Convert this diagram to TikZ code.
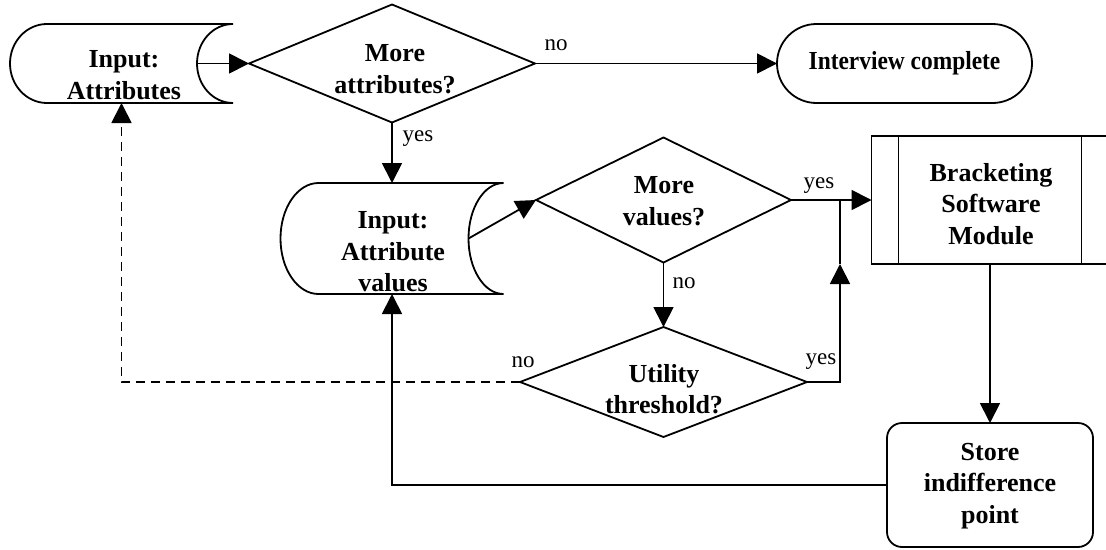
\documentclass[tikz,border=0pt]{standalone}
\usepackage{fontspec}
\usepackage{graphicx}
\setmainfont{Liberation Serif}
\usetikzlibrary{arrows.meta,shapes.geometric,shapes.misc}

\begin{document}
\begin{tikzpicture}[x=1pt,y=1pt,
  line width=1.8pt,
  >={Triangle[length=20pt,width=20pt]},
  txt/.style={font=\fontsize{26}{31.5}\selectfont\bfseries, align=center, inner sep=0pt, outer sep=0pt},
  shp/.style={inner sep=0pt, outer sep=0pt},
  lbl/.style={font=\fontsize{23}{28}\selectfont, inner sep=0pt},
  decision/.style={shp, diamond, draw, aspect=2.3},
  stored/.style={shp, rectangle, draw=none},
  terminal/.style={txt, rounded rectangle, draw},
  process/.style={txt, rectangle, draw},
  storebox/.style={shp, rectangle, rounded corners=15pt, draw},
  flow/.style={->},
  back/.style={->, dash pattern=on 9pt off 6pt}
]
\fill[white] (0,0) rectangle (1106,-549);
\useasboundingbox (0,0) rectangle (1106,-549);

% stored-data inputs: frame nodes, outlines drawn from their anchors
\node[stored, minimum width=223pt, minimum height=79pt] (in1) at (121.5,-63.5) {};
\node[stored, minimum width=223pt, minimum height=111pt] (in2) at (392,-238.5) {};
\draw ([xshift=37pt]in1.north west)
  arc[start angle=90, end angle=270, x radius=37pt, y radius=39.5pt]
  -- (in1.south east)
  arc[start angle=270, end angle=90, x radius=36pt, y radius=39.5pt]
  -- cycle;
\draw ([xshift=38pt]in2.north west)
  arc[start angle=90, end angle=270, x radius=38pt, y radius=55.5pt]
  -- (in2.south east)
  arc[start angle=270, end angle=90, x radius=35pt, y radius=55.5pt]
  -- cycle;
\node[txt] (in1t) at (124,-75) {Input:\\Attributes};
\node[txt] (in2t) at (393,-252) {Input:\\Attribute\\values};
\coordinate (in1out) at ([xshift=-36pt]in1.east);
\coordinate (in2out) at ([xshift=-35pt]in2.east);

% decisions
\node[decision, minimum width=286pt, minimum height=118pt] (d1) at (392,-63.5) {};
\node[decision, minimum width=255pt, minimum height=125pt] (d2) at (663.5,-200) {};
\node[decision, minimum width=287pt, minimum height=110pt] (d3) at (663.5,-382) {};
\node[txt] (d1t) at (395,-69) {More\\attributes?};
\node[txt] (d2t) at (664,-201) {More\\values?};
\node[txt] (d3t) at (664,-389) {Utility\\threshold?};

% terminal, process and store
\node[terminal, minimum width=255pt, minimum height=79pt] (end) at (904.5,-63.5)
  {\scalebox{0.9}[1]{Interview complete}};
\node[process, minimum width=237pt, minimum height=128pt] (brk) at (990,-200) {};
\draw ([xshift=27pt]brk.north west) -- ([xshift=27pt]brk.south west);
\draw ([xshift=-27pt]brk.north east) -- ([xshift=-27pt]brk.south east);
\node[txt] (brkt) at (991,-204) {Bracketing\\Software\\Module};
\node[storebox, minimum width=206pt, minimum height=124pt] (st) at (990,-485) {};
\node[txt] (stt) at (990,-486) {Store\\indifference\\point};

% junction on the right of the value loop
\coordinate (j) at (840,-200);
\coordinate (jtip) at (840,-264);

% connectors
\draw[flow] (in1out) -- (d1.west);
\draw[flow] (d1.east) -- (end.west);
\draw[flow] (d1.south) -- (in2.north);
\draw[flow] (in2out) -- (d2.west);
\draw[flow] (d2.east) -- (brk.west);
\draw[flow] (d2.south) -- (d3.north);
\draw[flow] (d3.east) -| (jtip);
\draw (jtip) -- (j);
\draw[back] (d3.west) -| (in1.south);
\draw[flow] (brk.south) -- (st.north);
\draw[flow] (st.west) -| (in2.south);

% branch labels
\node[lbl] (l1) at (556,-45) {no};
\node[lbl] (l2) at (418,-139) {yes};
\node[lbl] (l3) at (819,-186) {yes};
\node[lbl] (l4) at (684,-283) {no};
\node[lbl] (l5) at (523,-362) {no};
\node[lbl] (l6) at (821,-362) {yes};
\end{tikzpicture}
\end{document}
